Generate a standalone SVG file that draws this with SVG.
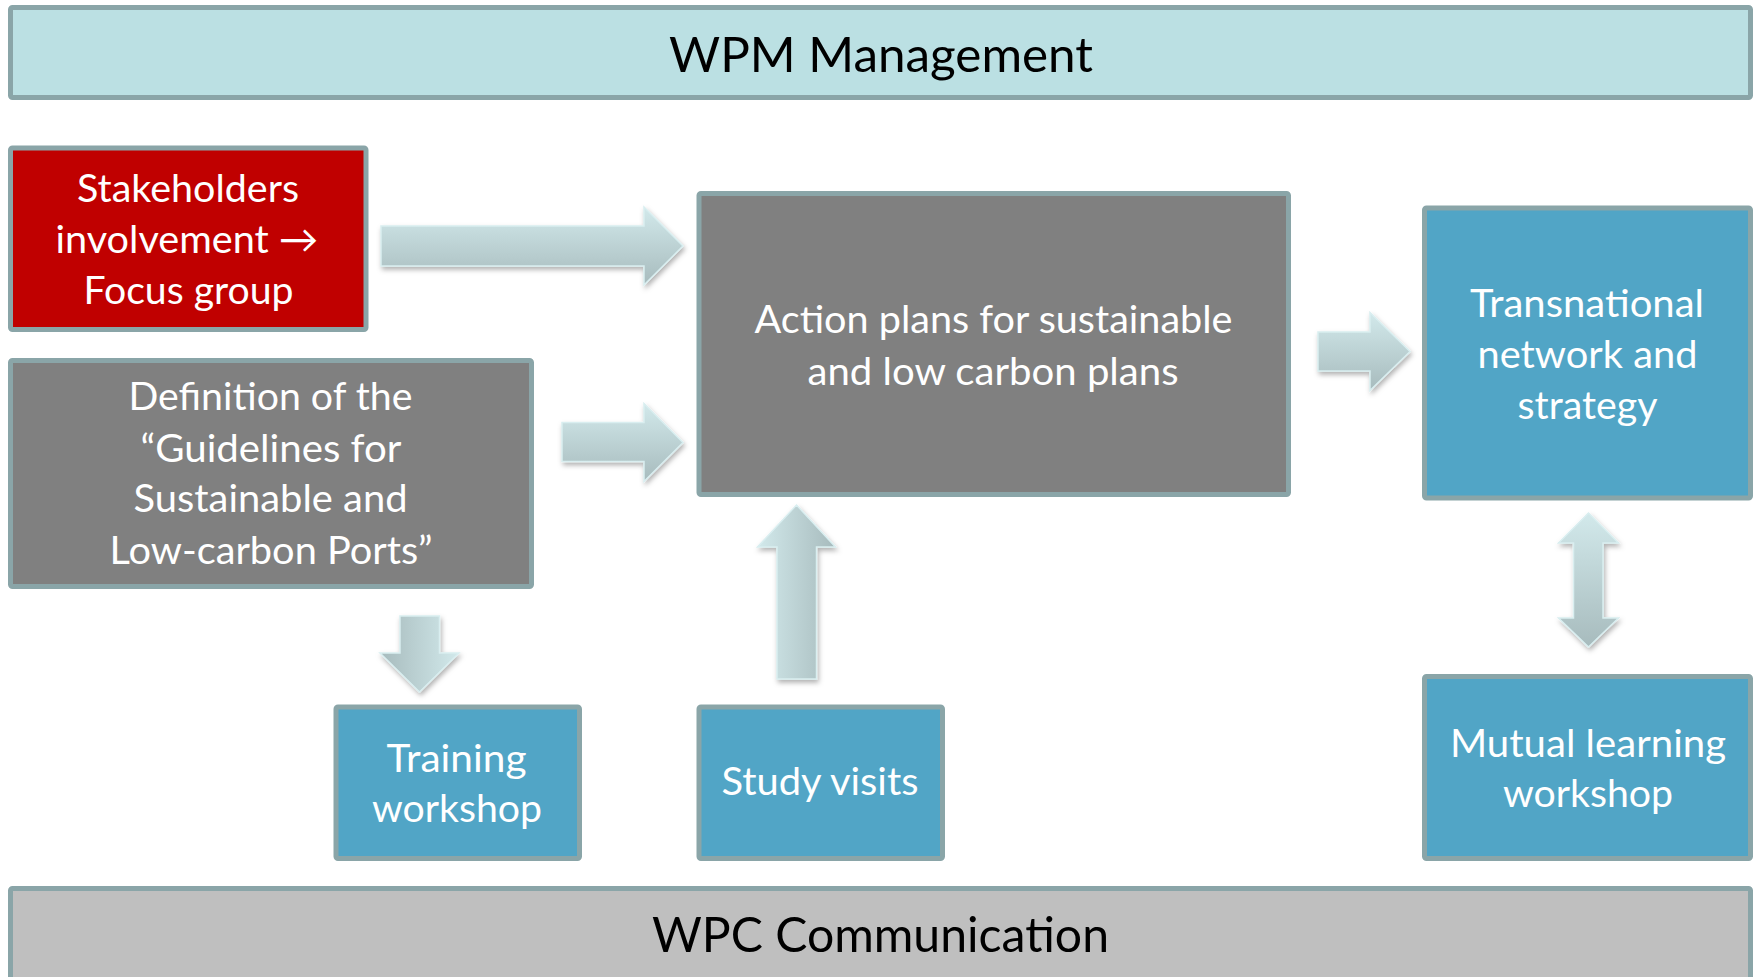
<svg xmlns="http://www.w3.org/2000/svg" width="1758" height="977" viewBox="0 0 1758 977">
<style>
.box{stroke:#8aa5a8;stroke-width:5}
.bar1{fill:#bbe0e3}
.bar2{fill:#bfbfbf}
.red{fill:#c00000}
.gray{fill:#808080}
.blue{fill:#51a5c6}
.t{font-family:Lato,"Open Sans","Liberation Sans",sans-serif;font-size:38.5px;fill:#ffffff;text-anchor:middle}
.title{font-family:Lato,"Open Sans","Liberation Sans",sans-serif;font-size:49px;fill:#000000;text-anchor:middle}
.arr{stroke:#d9eef0;stroke-width:1.5;filter:url(#sh)}
</style>
<defs>
<linearGradient id="gV" x1="0" y1="0" x2="0" y2="1"><stop offset="0" stop-color="#d2e9eb"/><stop offset="1" stop-color="#a7bbbd"/></linearGradient>
<linearGradient id="gD" x1="1" y1="0" x2="0" y2="0"><stop offset="0" stop-color="#d2e9eb"/><stop offset="1" stop-color="#a7bbbd"/></linearGradient>
<linearGradient id="gU" x1="0" y1="0" x2="1" y2="0"><stop offset="0" stop-color="#d2e9eb"/><stop offset="1" stop-color="#a7bbbd"/></linearGradient>
<filter id="sh" x="-20%" y="-20%" width="140%" height="140%"><feDropShadow dx="1.5" dy="3" stdDeviation="2.5" flood-color="#000000" flood-opacity="0.3"/></filter>
</defs>
<rect width="1758" height="977" fill="#ffffff"/>
<g id="wpm-management">
<rect class="box bar1" x="10.5" y="7.5" width="1740" height="90" rx="2"/>
<text class="title" x="881" y="72" textLength="424" lengthAdjust="spacingAndGlyphs">WPM Management</text>
</g>
<g id="stakeholders">
<rect class="box red" x="10.5" y="148" width="355.5" height="181.5" rx="2"/>
<text class="t" x="188" y="202" textLength="222" lengthAdjust="spacingAndGlyphs">Stakeholders</text>
<text class="t" x="187" y="252.5" textLength="263" lengthAdjust="spacingAndGlyphs">involvement →</text>
<text class="t" x="188.5" y="303.5" textLength="210" lengthAdjust="spacingAndGlyphs">Focus group</text>
</g>
<g id="guidelines">
<rect class="box gray" x="10.5" y="360.5" width="521" height="226" rx="2"/>
<text class="t" x="270.5" y="410" textLength="284" lengthAdjust="spacingAndGlyphs">Definition of the</text>
<text class="t" x="271" y="462" textLength="261" lengthAdjust="spacingAndGlyphs">“Guidelines for</text>
<text class="t" x="270.5" y="512" textLength="274" lengthAdjust="spacingAndGlyphs">Sustainable and</text>
<text class="t" x="271" y="564" textLength="323" lengthAdjust="spacingAndGlyphs">Low-carbon Ports”</text>
</g>
<g id="action-plans">
<rect class="box gray" x="699" y="193.5" width="589.5" height="301" rx="2"/>
<text class="t" x="993.5" y="333" textLength="478" lengthAdjust="spacingAndGlyphs">Action plans for sustainable</text>
<text class="t" x="993" y="384.5" textLength="371" lengthAdjust="spacingAndGlyphs">and low carbon plans</text>
</g>
<g id="transnational">
<rect class="box blue" x="1424.5" y="208" width="326" height="290" rx="2"/>
<text class="t" x="1587" y="317" textLength="234" lengthAdjust="spacingAndGlyphs">Transnational</text>
<text class="t" x="1587.5" y="368" textLength="220" lengthAdjust="spacingAndGlyphs">network and</text>
<text class="t" x="1587.5" y="418.5" textLength="140" lengthAdjust="spacingAndGlyphs">strategy</text>
</g>
<g id="training">
<rect class="box blue" x="336" y="707" width="243.5" height="151.5" rx="2"/>
<text class="t" x="456.5" y="772" textLength="140" lengthAdjust="spacingAndGlyphs">Training</text>
<text class="t" x="457" y="822" textLength="170" lengthAdjust="spacingAndGlyphs">workshop</text>
</g>
<g id="study-visits">
<rect class="box blue" x="699" y="707" width="243.5" height="151.5" rx="2"/>
<text class="t" x="820" y="795" textLength="197" lengthAdjust="spacingAndGlyphs">Study visits</text>
</g>
<g id="mutual-learning">
<rect class="box blue" x="1424.5" y="676.5" width="326" height="182" rx="2"/>
<text class="t" x="1588" y="757" textLength="276" lengthAdjust="spacingAndGlyphs">Mutual learning</text>
<text class="t" x="1588" y="807" textLength="170" lengthAdjust="spacingAndGlyphs">workshop</text>
</g>
<g id="wpc-communication">
<rect class="box bar2" x="10.5" y="888.5" width="1740" height="100" rx="2"/>
<text class="title" x="880.5" y="951.5" textLength="457" lengthAdjust="spacingAndGlyphs">WPC Communication</text>
</g>
<g id="connectors">
<path class="arr" fill="url(#gV)" d="M381,226 H644 V207 L683,246 L644,285 V266 H381 Z"/>
<path class="arr" fill="url(#gV)" d="M562,422.5 H644 V403.5 L683,442.5 L644,481.5 V461.5 H562 Z"/>
<path class="arr" fill="url(#gV)" d="M1318,332 H1370 V312.5 L1410,351.5 L1370,390.5 V371 H1318 Z"/>
<path class="arr" fill="url(#gD)" d="M400,616 H439.5 V653 H459 L419.5,692 L380,653 H400 Z"/>
<path class="arr" fill="url(#gU)" d="M796.5,505 L835.5,547 H816.5 V679 H777 V547 H757.5 Z"/>
<path class="arr" fill="url(#gV)" d="M1588.5,513 L1618.5,543 H1603 V618 H1618.5 L1588.5,647 L1558.5,618 H1573.5 V543 H1558.5 Z"/>
</g>
</svg>
